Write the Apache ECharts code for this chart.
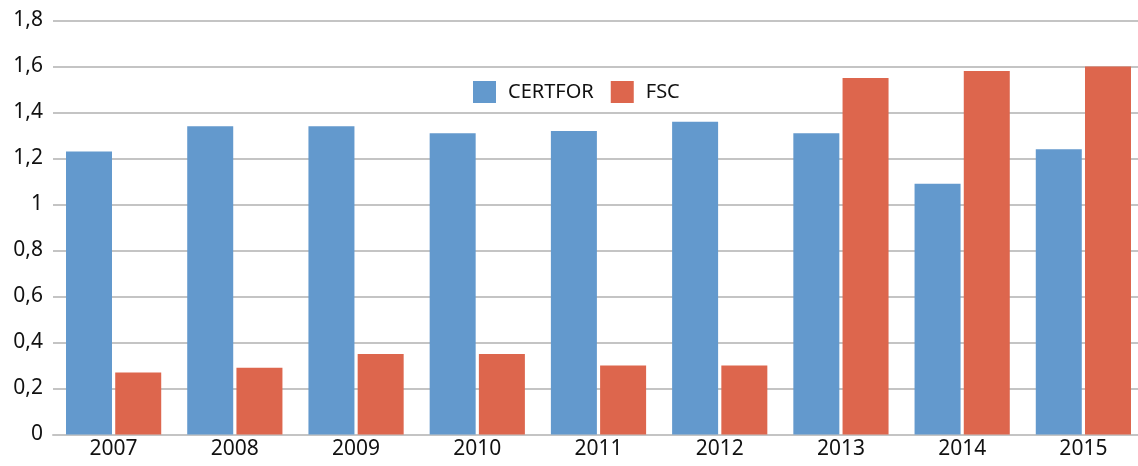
<!DOCTYPE html>
<html>
<head>
<meta charset="utf-8">
<script src="https://cdn.jsdelivr.net/npm/echarts@6/dist/echarts.min.js"></script>
<style>
  html, body { margin: 0; padding: 0; background: #fff; overflow: hidden; }
  /* el gráfico original está recortado a la derecha */
  #main { width: 1144px; height: 466px; }
</style>
</head>
<body>
<div id="main"></div>
<script>
// datos
var years = ['2007', '2008', '2009', '2010', '2011', '2012', '2013', '2014', '2015'];
var certfor = [1.23, 1.34, 1.34, 1.31, 1.32, 1.36, 1.31, 1.09, 1.24];
var fsc = [0.27, 0.29, 0.35, 0.35, 0.30, 0.30, 1.55, 1.58, 1.60];
var yTicks = [0, 0.2, 0.4, 0.6, 0.8, 1, 1.2, 1.4, 1.6, 1.8];

var myChart = echarts.init(document.getElementById('main'));

var fontFam = '"Noto Sans", "Open Sans", sans-serif';

option = {
    backgroundColor: '#fff',
    animation: false,
    legend: {
        left: 473,
        top: 81,
        padding: 0,
        itemWidth: 23,
        itemHeight: 22,
        itemGap: 17,
        icon: 'rect',
        data: ['CERTFOR', 'FSC'],
        textStyle: {
            color: '#111',
            fontSize: 20,
            fontFamily: fontFam,
            padding: [0, 0, 0, 7]
        }
    },
    grid: {
        left: 53,
        right: 0,
        top: 20.5,
        bottom: 31.5,
        containLabel: false
    },
    xAxis: {
        type: 'category',
        data: years,
        axisLine: { show: true, lineStyle: { color: '#c4c4c4', width: 2 } },
        axisTick: { show: false },
        axisLabel: {
            color: '#111',
            fontSize: 21,
            fontFamily: fontFam,
            margin: 4
        }
    },
    yAxis: {
        type: 'value',
        min: 0,
        max: yTicks[yTicks.length - 1],
        interval: 0.2,
        axisLine: { show: false },
        axisTick: { show: false },
        splitLine: { lineStyle: { color: '#c4c4c4', width: 2 } },
        axisLabel: {
            color: '#111',
            fontSize: 21,
            fontFamily: fontFam,
            margin: 10,
            formatter: function (v) {
                return String(Math.round(v * 10) / 10).replace('.', ',');
            }
        }
    },
    series: [
        {
            name: 'CERTFOR',
            type: 'bar',
            data: certfor,
            barWidth: 46,
            barGap: '7%',
            itemStyle: { color: '#6399CD' }
        },
        {
            name: 'FSC',
            type: 'bar',
            data: fsc,
            barWidth: 46,
            barGap: '7%',
            itemStyle: { color: '#DD664D' }
        }
    ]
};

myChart.setOption(option);
</script>
</body>
</html>
